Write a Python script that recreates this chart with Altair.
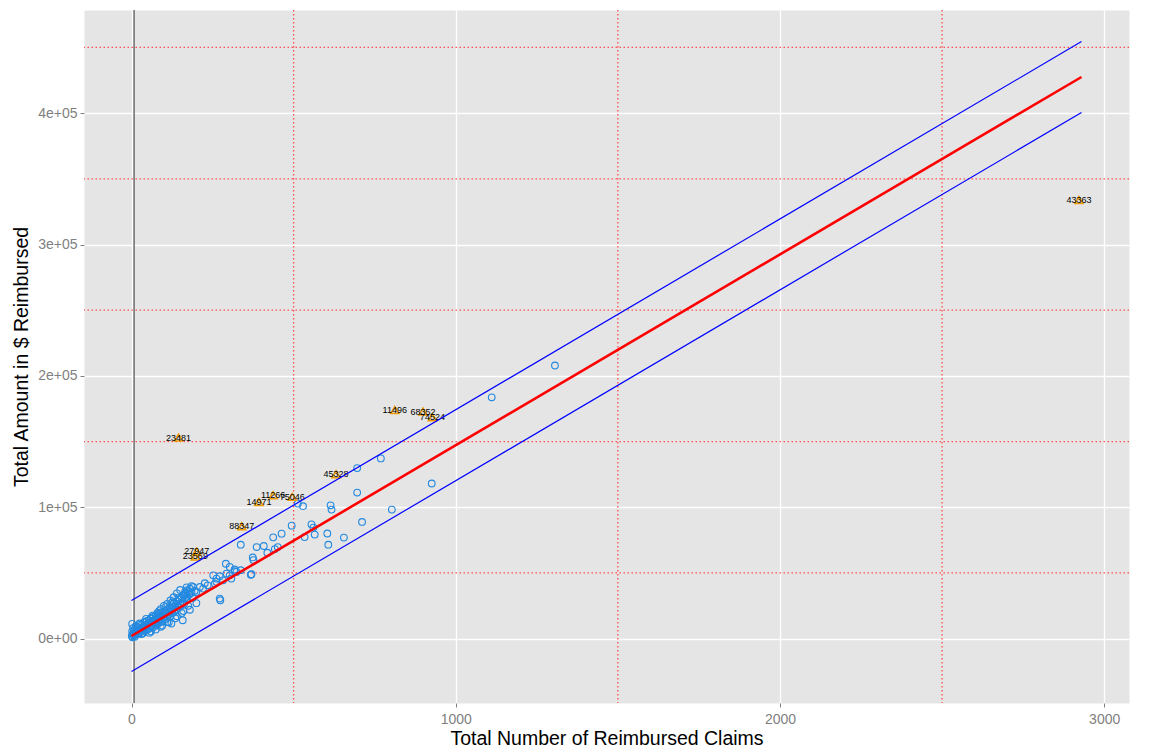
import altair as alt
import pandas as pd

# ---------------- data ----------------
blue_x = [
    1306, 1111, 926, 803, 769, 696, 696, 711, 655, 614, 617, 604, 607, 565, 555, 561, 534,
    494, 513, 529, 463, 437, 451, 442, 419, 408, 386, 337, 374, 376, 368, 291,
    252, 262, 272, 282, 293, 303, 308, 303, 318, 324, 337, 318, 370, 257, 262, 272, 274,
    190, 211, 221, 200, 180, 170, 164, 226, 235,
    2, 1, 2, 3, 4, 5, 6, 8, 9, 10, 12, 13, 15, 16, 18, 20, 21, 23, 25, 26, 28, 30, 31, 33,
    35, 36, 38, 40, 42, 44, 45, 47, 49, 50, 52, 54, 55, 57, 59, 60, 62, 64, 66, 67, 69, 70,
    72, 74, 75, 77, 79, 80, 82, 84, 85, 87, 89, 90, 92, 94, 96, 98, 100, 102, 104, 106, 108,
    110, 112, 114, 116, 118, 120, 122, 124, 126, 128, 130, 132, 135, 138, 140, 142, 145, 148,
    150, 152, 155, 158, 160, 162, 165, 168, 170, 172, 175, 178, 180, 185, 188, 195,
    158, 123, 140, 90, 180, 200, 60, 110,
    15, 25, 35, 45, 55, 65, 75, 85, 95, 105, 115, 125, 135, 145, 155, 165, 175, 185,
    120, 140, 110, 100, 170, 160, 60, 40, 80, 90, 130, 150,
]
blue_y = [
    207900, 183700, 118100, 98200, 137200, 129800, 111200, 88800, 76900, 101500, 98200, 80000,
    71500, 79200, 87000, 84500, 77300, 86000, 102800, 100800, 79900, 77100, 69700, 68200,
    65400, 70500, 69700, 71500, 61800, 59800, 48600, 57000,
    48200, 45700, 47500, 44400, 49500, 48200, 45700, 54600, 52600, 50800, 52100, 51300, 49000,
    41900, 43200, 30500, 29200,
    39300, 39300, 38100, 35500, 34300, 36800, 33000, 42200, 40600,
    11200, 2000, 5500, 1000, 3500, 8000, 2500, 4500, 6500, 1500, 3000, 9500, 5000, 7000, 3500,
    6000, 8500, 4000, 10500, 6500, 5500, 8000, 3500, 11000, 7500, 9000, 5500, 12500, 8500,
    6500, 10500, 13500, 9000, 7000, 11500, 14000, 9500, 8000, 12000, 15500, 10000, 13000,
    8500, 16500, 11500, 14000, 12500, 10000, 17500, 13500, 15000, 11000, 18500, 14000, 16500,
    12500, 19500, 15000, 17500, 13000, 20000, 16000, 18500, 14500, 21000, 17500, 19500, 16000,
    22500, 18500, 20500, 24000, 17000, 21500, 25500, 19500, 23000, 27000, 20500, 24500, 22000,
    28500, 26000, 23500, 30000, 27000, 25000, 31500, 28000, 33000, 26500, 30500, 34500, 32000,
    29500, 36000, 33500, 38000, 35000, 31000, 36500,
    14000, 11500, 17000, 9000, 22000, 27000, 5500, 12500,
    9000, 11500, 4000, 15000, 4500, 17500, 7000, 21000, 10000, 24000, 12500, 27500, 15500,
    31000, 19500, 35500, 25000, 40000,
    29000, 34500, 26500, 25000, 39000, 21000, 15500, 12500, 19500, 22500, 31500, 37000,
]

out_ids = ["23481", "11496", "68352", "74524", "45328", "11266", "75046",
           "14971", "88347", "27947", "23569", "43363"]
out_x = [145, 812, 899, 928, 631, 437, 496, 393, 340, 201, 197, 2922]
out_y = [153000, 174000, 172800, 168500, 125200, 109200, 107900, 104000, 85500,
         66400, 62600, 333800]

line_x = [0, 2930]
fit_y = [2000, 427500]
upper_y = [29000, 454500]
lower_y = [-25000, 400500]

minor_x = [500, 1500, 2500]
minor_y = [50000, 150000, 250000, 350000, 450000]
vline_x = [8]

x_ticks = [0, 1000, 2000, 3000]
y_ticks = [0, 100000, 200000, 300000, 400000]

# ---------------- chart ----------------
FONT = "Liberation Sans"
W, H = 1045, 693
xs = alt.Scale(domain=[-146.5, 3076.5], nice=False, zero=False)
ys = alt.Scale(domain=[-49000, 478500], nice=False, zero=False)

x_axis = alt.Axis(values=x_ticks, format="d", title="Total Number of Reimbursed Claims",
                  grid=True, gridColor="white", gridWidth=1.3, domain=False,
                  tickColor="#7F7F7F", tickSize=4, labelColor="#7F7F7F",
                  labelFontSize=14, labelPadding=5, titleFontSize=19.5,
                  titleFontWeight="normal", titleColor="black", titlePadding=3)
y_axis = alt.Axis(values=y_ticks, title="Total Amount in $ Reimbursed",
                  labelExpr="datum.value == 0 ? '0e+00' : format(datum.value/100000, 'd') + 'e+05'",
                  grid=True, gridColor="white", gridWidth=1.3, domain=False,
                  tickColor="#7F7F7F", tickSize=4, labelColor="#7F7F7F",
                  labelFontSize=14, labelPadding=3, titleFontSize=19.5,
                  titleFontWeight="normal", titleColor="black", titlePadding=6)

blue_df = pd.DataFrame({"x": blue_x, "y": blue_y})
out_df = pd.DataFrame({"x": out_x, "y": out_y, "id": out_ids})
line_df = pd.DataFrame({"x": line_x, "fit": fit_y, "upper": upper_y, "lower": lower_y})
mx_df = pd.DataFrame({"x": minor_x})
my_df = pd.DataFrame({"y": minor_y})
vl_df = pd.DataFrame({"x": vline_x})

X = lambda f: alt.X(f, type="quantitative", scale=xs, axis=x_axis)
Y = lambda f: alt.Y(f, type="quantitative", scale=ys, axis=y_axis)

minor_v = alt.Chart(mx_df).mark_rule(color="#FF4D4D", strokeDash=[1.5, 2.5], strokeWidth=1.3).encode(x=X("x"))
minor_h = alt.Chart(my_df).mark_rule(color="#FF4D4D", strokeDash=[1.5, 2.5], strokeWidth=1.3).encode(y=Y("y"))
vline = alt.Chart(vl_df).mark_rule(color="#707070", strokeWidth=1.5).encode(x=X("x"))

pts = alt.Chart(blue_df).mark_point(shape="circle", filled=False, color="#2389E0",
                                    size=45, strokeWidth=1.1, opacity=1).encode(x=X("x"), y=Y("y"))
tri = alt.Chart(out_df).mark_point(shape="triangle-up", filled=False, color="#EE9A00",
                                   size=65, strokeWidth=1.5, opacity=1).encode(x=X("x"), y=Y("y"))
lbl = alt.Chart(out_df).mark_text(fontSize=9, font=FONT, color="black").encode(
    x=X("x"), y=Y("y"), text="id:N")

up = alt.Chart(line_df).mark_line(color="blue", strokeWidth=1.2).encode(x=X("x"), y=Y("upper"))
lo = alt.Chart(line_df).mark_line(color="blue", strokeWidth=1.2).encode(x=X("x"), y=Y("lower"))
fit = alt.Chart(line_df).mark_line(color="red", strokeWidth=2.6).encode(x=X("x"), y=Y("fit"))

chart = alt.layer(minor_v, minor_h, vline, pts, tri, lbl, up, lo, fit).properties(
    width=W, height=H,
    padding={"left": 76, "top": 2, "right": 35, "bottom": 47},
    autosize=alt.AutoSizeParams(type="none"),
).configure(
    font=FONT,
    view=alt.ViewConfig(fill="#E5E5E5", stroke="transparent"),
)

chart.save("out.html", embed_options={"renderer": "svg", "actions": False})
